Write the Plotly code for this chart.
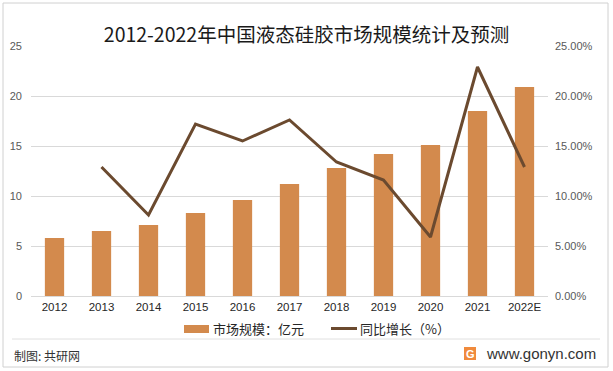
import plotly.graph_objects as go

years = ["2012", "2013", "2014", "2015", "2016", "2017", "2018", "2019", "2020", "2021", "2022E"]
market_size = [5.8, 6.5, 7.1, 8.3, 9.6, 11.2, 12.8, 14.2, 15.1, 18.5, 20.9]
growth_years = ["2013", "2014", "2015", "2016", "2017", "2018", "2019", "2020", "2021", "2022E"]
growth_rate = [0.129, 0.081, 0.172, 0.155, 0.176, 0.134, 0.116, 0.059, 0.229, 0.129]
bar_name = "市场规模：亿元"
line_name = "同比增长（%）"

W, H = 613, 371
L, R, T, B = 31, 65, 46, 75
BAR_COLOR = "#D38A4D"
LINE_COLOR = "#6B4A2F"

fig = go.Figure()
fig.add_trace(go.Bar(
    x=years, y=market_size, name=bar_name, showlegend=False,
    marker=dict(color=BAR_COLOR, line=dict(width=0)), width=0.41,
))
fig.add_trace(go.Scatter(
    x=growth_years, y=growth_rate, name=line_name, yaxis="y2", showlegend=False,
    mode="lines", line=dict(color=LINE_COLOR, width=3),
))

font = "Noto Sans CJK SC"
fig.update_layout(
    width=W, height=H, autosize=False,
    margin=dict(l=L, r=R, t=T, b=B, autoexpand=False),
    paper_bgcolor="white", plot_bgcolor="white",
    font=dict(family=font, color="#595959", size=11),
    title=dict(text="2012-2022年中国液态硅胶市场规模统计及预测", x=0.5, xanchor="center",
               y=1 - 35 / H, yanchor="middle", font=dict(size=19.5, color="#1a1a1a", family=font)),
    xaxis=dict(type="category", showgrid=False, showline=True, linecolor="#d9d9d9", linewidth=1,
               ticks="", tickfont=dict(size=11.5, color="#262626", family="Liberation Sans"),
               range=[-0.5, 10.5], automargin=False),
    yaxis=dict(range=[0, 25], dtick=5, showgrid=True, gridcolor="#d9d9d9", gridwidth=1,
               zeroline=False, showline=False, ticks="", ticklabelstandoff=8, automargin=False,
               tickfont=dict(size=11, color="#595959", family="Liberation Sans")),
    yaxis2=dict(range=[0, 0.25], dtick=0.05, tickformat=".2%", overlaying="y", side="right",
                showgrid=False, zeroline=False, showline=False, ticks="", automargin=False,
                ticklabelstandoff=6,
                tickfont=dict(size=11, color="#595959", family="Liberation Sans")),
    bargap=0.6,
    showlegend=False,
)

def px(xp):
    return (xp - L) / (W - L - R)

def py(yp):
    return (H - B - yp) / (H - T - B)

# custom legend
fig.add_shape(type="rect", xref="paper", yref="paper", x0=px(184), x1=px(209), y0=py(333), y1=py(325),
              line=dict(width=0), fillcolor=BAR_COLOR)
fig.add_annotation(text=bar_name, xref="paper", yref="paper", x=px(211), y=py(328.5),
                   xanchor="left", yanchor="middle", showarrow=False,
                   font=dict(size=13, color="#262626", family=font))
fig.add_shape(type="line", xref="paper", yref="paper", x0=px(331), x1=px(357), y0=py(328.5), y1=py(328.5),
              line=dict(color=LINE_COLOR, width=3))
fig.add_annotation(text=line_name, xref="paper", yref="paper", x=px(358), y=py(328.5),
                   xanchor="left", yanchor="middle", showarrow=False,
                   font=dict(size=13, color="#262626", family=font))

# outer border
fig.add_shape(type="rect", xref="paper", yref="paper",
              x0=px(3), x1=px(608), y0=py(367), y1=py(3),
              line=dict(color="#d0d0d0", width=1), fillcolor="rgba(0,0,0,0)")
# footer divider
fig.add_shape(type="line", xref="paper", yref="paper",
              x0=px(12), x1=px(600), y0=py(339), y1=py(339),
              line=dict(color="#e0e0e0", width=1))

fig.add_annotation(text="制图: 共研网", xref="paper", yref="paper", x=px(12), y=py(355),
                   xanchor="left", yanchor="middle", showarrow=False,
                   font=dict(size=12, color="#333333", family=font))
fig.add_annotation(text="www.gonyn.com", xref="paper", yref="paper", x=px(598), y=py(353),
                   xanchor="right", yanchor="middle", showarrow=False,
                   font=dict(size=15, color="#333333", family="Liberation Sans"))
# logo
fig.add_shape(type="rect", xref="paper", yref="paper", x0=px(464), x1=px(476), y0=py(360), y1=py(347),
              line=dict(width=0), fillcolor="#F08A3C")
fig.add_annotation(text="<b>G</b>", xref="paper", yref="paper", x=px(470), y=py(353.5),
                   xanchor="center", yanchor="middle", showarrow=False,
                   font=dict(size=11, color="white", family="Liberation Sans"))

fig.write_html("out.html", config={"displayModeBar": False},
               post_script="document.body.style.margin='0';document.body.style.overflow='hidden';")
